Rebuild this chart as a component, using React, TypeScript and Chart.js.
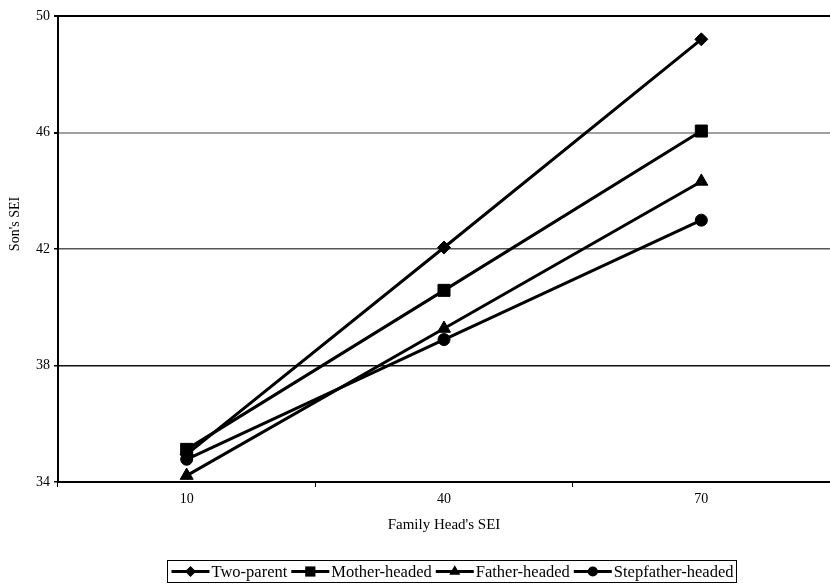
import React, { useEffect, useRef } from 'react';
import { Chart, registerables } from 'chart.js';

Chart.register(...registerables);

const FONT = "'Liberation Serif', 'Times New Roman', serif";

const categories = ['10', '40', '70'];
const seriesNames = ['Two-parent', 'Mother-headed', 'Father-headed', 'Stepfather-headed'];
const twoParent = [34.95, 42.05, 49.2];
const motherHeaded = [35.12, 40.58, 46.05];
const fatherHeaded = [34.22, 39.27, 44.32];
const stepfatherHeaded = [34.78, 38.89, 42.99];
const yTicks = [34, 38, 42, 46, 50];
const xTitle = "Family Head's SEI";
const yTitle = "Son's SEI";

const markerStyles = ['rectRot', 'rect', 'triangle', 'circle'];
const markerRadii = [6.5, 8.5, 7.5, 6];
const gridColors: Record<number, string> = { 34: '#000', 38: '#111', 42: '#555', 46: '#a0a0a0', 50: '#000' };

function drawMarker(ctx: CanvasRenderingContext2D, style: string, x: number, y: number, r: number) {
  ctx.beginPath();
  if (style === 'rectRot') {
    ctx.moveTo(x, y - r);
    ctx.lineTo(x + r, y);
    ctx.lineTo(x, y + r);
    ctx.lineTo(x - r, y);
    ctx.closePath();
  } else if (style === 'rect') {
    const s = r * Math.SQRT1_2;
    ctx.rect(x - s, y - s, 2 * s, 2 * s);
  } else if (style === 'triangle') {
    ctx.moveTo(x, y - r);
    ctx.lineTo(x + r * 0.866, y + r * 0.5);
    ctx.lineTo(x - r * 0.866, y + r * 0.5);
    ctx.closePath();
  } else {
    ctx.arc(x, y, r, 0, Math.PI * 2);
  }
  ctx.fill();
}

const customPlugin = {
  id: 'customDecor',
  afterDraw(chart: any) {
    const ctx: CanvasRenderingContext2D = chart.ctx;
    const area = chart.chartArea;
    ctx.save();
    // y axis title
    ctx.fillStyle = '#000';
    ctx.font = `14px ${FONT}`;
    ctx.textAlign = 'center';
    ctx.textBaseline = 'middle';
    ctx.translate(15, 224);
    ctx.rotate(-Math.PI / 2);
    ctx.fillText(yTitle, 0, 0);
    ctx.restore();

    // legend
    ctx.save();
    ctx.font = `16.5px ${FONT}`;
    const lineLen = 38;
    const gapAfterLine = 2;
    const gapItems = 4;
    const ds = chart.data.datasets;
    const widths = ds.map((d: any) => ctx.measureText(d.label).width);
    let total = 0;
    widths.forEach((w: number, i: number) => {
      total += lineLen + gapAfterLine + w + (i < widths.length - 1 ? gapItems : 0);
    });
    const padL = 4;
    const padR = 3;
    const cx = (area.left + area.right) / 2 + 7;
    const boxW = total + padL + padR;
    const boxL = Math.round(cx - boxW / 2) + 0.5;
    const boxT = 560.5;
    const boxH = 22;
    ctx.strokeStyle = '#000';
    ctx.lineWidth = 1;
    ctx.strokeRect(boxL, boxT, boxW, boxH);
    const midY = boxT + boxH / 2;
    let x = boxL + padL;
    ds.forEach((d: any, i: number) => {
      ctx.strokeStyle = '#000';
      ctx.lineWidth = 3;
      ctx.beginPath();
      ctx.moveTo(x, midY);
      ctx.lineTo(x + lineLen, midY);
      ctx.stroke();
      ctx.fillStyle = '#000';
      drawMarker(ctx, markerStyles[i], x + lineLen / 2, midY, markerRadii[i] * 0.85);
      x += lineLen + gapAfterLine;
      ctx.fillStyle = '#000';
      ctx.textAlign = 'left';
      ctx.textBaseline = 'middle';
      ctx.fillText(d.label, x, midY + 1);
      x += widths[i] + gapItems;
    });
    ctx.restore();
  },
};

export default function App() {
  const canvasRef = useRef<HTMLCanvasElement | null>(null);

  useEffect(() => {
    document.body.style.margin = '0';
    const canvas = canvasRef.current;
    if (!canvas) return;
    const seriesValues = [twoParent, motherHeaded, fatherHeaded, stepfatherHeaded];
    const chart = new Chart(canvas, {
      type: 'line',
      data: {
        labels: categories,
        datasets: seriesNames.map((name, i) => ({
          label: name,
          data: seriesValues[i],
          borderColor: '#000',
          backgroundColor: '#000',
          borderWidth: 3,
          pointStyle: markerStyles[i] as any,
          pointRadius: markerRadii[i],
          pointBackgroundColor: '#000',
          pointBorderColor: '#000',
          pointBorderWidth: 1,
          tension: 0,
        })),
      },
      options: {
        animation: false,
        responsive: false,
        devicePixelRatio: 1,
        layout: { autoPadding: false, padding: { top: 16, right: 0, bottom: 0, left: 0 } },
        plugins: {
          legend: { display: false },
          tooltip: { enabled: false },
        },
        scales: {
          x: {
            type: 'category',
            offset: true,
            grid: {
              offset: true,
              drawOnChartArea: false,
              drawTicks: true,
              tickLength: 5,
              color: '#000',
              tickColor: '#000',
            },
            border: { color: '#000', width: 2 },
            ticks: {
              color: '#000',
              font: { family: FONT, size: 14 },
              padding: 4,
              maxRotation: 0,
            },
            title: {
              display: true,
              text: xTitle,
              color: '#000',
              font: { family: FONT, size: 15 },
              padding: { top: 0, bottom: 50 },
            },
            afterFit: (s: any) => {
              s.height = 102;
            },
          },
          y: {
            type: 'linear',
            min: 34,
            max: 50,
            afterBuildTicks: (s: any) => {
              s.ticks = yTicks.map((v) => ({ value: v }));
            },
            grid: {
              color: (c: any) => gridColors[c.tick?.value] ?? '#000',
              lineWidth: (c: any) => (c.tick?.value === 50 ? 2 : c.tick?.value === 46 ? 2 : 1.5),
              drawTicks: true,
              tickLength: 4,
              tickColor: '#000',
            },
            border: { color: '#000', width: 2 },
            ticks: {
              color: '#000',
              font: { family: FONT, size: 14 },
              padding: 4,
            },
            afterFit: (s: any) => {
              s.width = 58;
            },
          },
        },
      },
      plugins: [customPlugin],
    });
    return () => chart.destroy();
  }, []);

  return (
    <div style={{ width: 830, height: 584 }}>
      <canvas ref={canvasRef} width={830} height={584} />
    </div>
  );
}
